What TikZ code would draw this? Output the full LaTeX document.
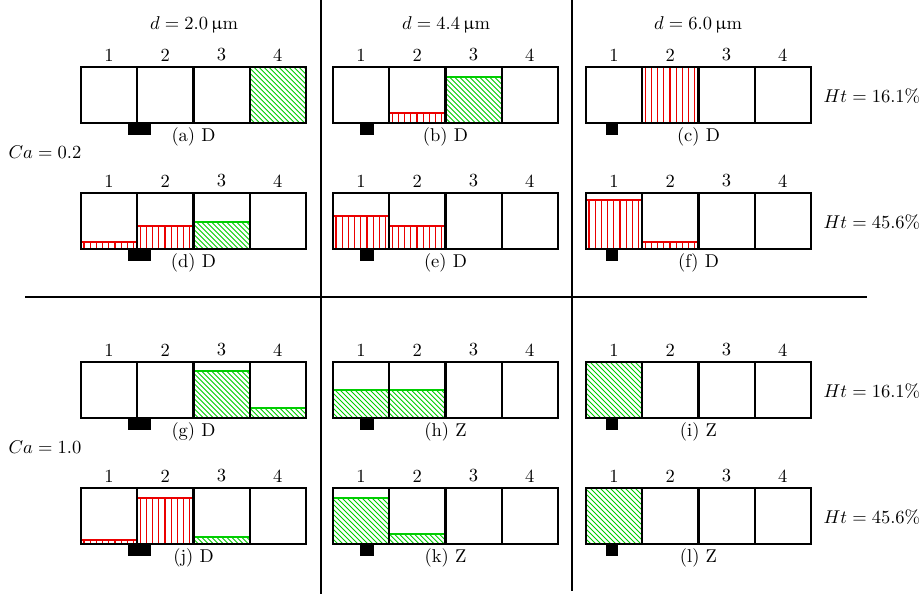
\documentclass[tikz,border=0pt]{standalone}
\usepackage{amsmath}
\usepackage{upgreek}
\usepackage{tikz}
\definecolor{dropgreen}{RGB}{0,205,0}
\definecolor{filmred}{RGB}{235,0,0}

% one chamber row: tag, left, top, pad from, pad to, caption, fills (cell/height/style)
\newcommand{\chamber}[7]{%
  \foreach \k/\h/\s in {#7}
    \path[\s] ({#2+(\k-1)*56.25},{#3+56}) rectangle ({#2+\k*56.25},{#3+56-\h});
  \foreach \k in {1,...,4}{
    \draw[cellbox] ({#2+(\k-1)*56.25},{#3}) rectangle ({#2+\k*56.25},{#3+56});
    \node (#1num\k) at ({#2+(\k-0.5)*56.25},{#3-12}) {\k};
  }
  \fill (#4,{#3+56}) rectangle (#5,{#3+68});
  \node (#1cap) at ({#2+112.5},{#3+70}) {#6};
}

\begin{document}
\begin{tikzpicture}[x=0.54pt, y=-0.54pt,
  cellbox/.style={draw, line width=1.15pt},
  drop/.style={draw=dropgreen, line width=0.6pt, path picture={
      \foreach \t in {0,5,...,120}
        \draw[dropgreen, line width=0.4pt] (path picture bounding box.south west)
          ++(\t,0) -- ++(-62,-62);}},
  film/.style={draw=filmred, line width=0.6pt, path picture={
      \foreach \t in {3,9.2,...,56}
        \draw[filmred, line width=0.6pt] (path picture bounding box.south west)
          ++(\t,0) -- ++(0,-60);}},
  sep/.style={line width=1.15pt}]
  \useasboundingbox (0,0) rectangle (921,597);

  % column heads
  \node (d1) at (194,25) {$d = 2.0\,\upmu\mathrm{m}$};
  \node (d2) at (446,25) {$d = 4.4\,\upmu\mathrm{m}$};
  \node (d3) at (698,25) {$d = 6.0\,\upmu\mathrm{m}$};

  \chamber{a}{81}{67}{128}{151}{(a) D}{4/56/drop}
  \chamber{b}{333}{67}{360}{374}{(b) D}{2/10/film,3/46/drop}
  \chamber{c}{586}{67}{606}{618}{(c) D}{2/56/film}
  \chamber{d}{81}{193}{128}{151}{(d) D}{1/7/film,2/23/film,3/27/drop}
  \chamber{e}{333}{193}{360}{374}{(e) D}{1/33/film,2/23/film}
  \chamber{f}{586}{193}{606}{618}{(f) D}{1/49/film,2/7/film}
  \chamber{g}{81}{362}{128}{151}{(g) D}{3/47/drop,4/10/drop}
  \chamber{h}{333}{362}{360}{374}{(h) Z}{1/28/drop,2/28/drop}
  \chamber{i}{586}{362}{606}{618}{(i) Z}{1/56/drop}
  \chamber{j}{81}{488}{128}{151}{(j) D}{1/4/film,2/46/film,3/7/drop}
  \chamber{k}{333}{488}{360}{374}{(k) Z}{1/46/drop,2/10/drop}
  \chamber{l}{586}{488}{606}{618}{(l) Z}{1/56/drop}

  % row labels
  \node (ca1) at (45,152) {$Ca = 0.2$};
  \node (ca2) at (45,447) {$Ca = 1.0$};
  \node[anchor=west] (ht1) at (817,96) {$Ht = 16.1\%$};
  \node[anchor=west] (ht2) at (817,222) {$Ht = 45.6\%$};
  \node[anchor=west] (ht3) at (817,391) {$Ht = 16.1\%$};
  \node[anchor=west] (ht4) at (817,517) {$Ht = 45.6\%$};

  % dividers
  \draw[sep] (321,0) -- (321,594);
  \draw[sep] (572,0) -- (572,591);
  \draw[sep] (25,297) -- (867,297);
\end{tikzpicture}
\end{document}
